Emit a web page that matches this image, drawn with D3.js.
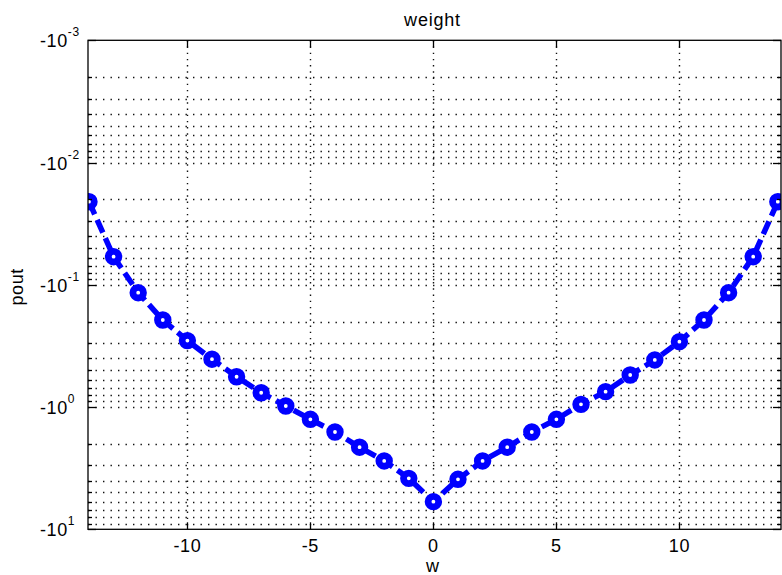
<!DOCTYPE html>
<html><head><meta charset="utf-8">
<script src="https://cdn.jsdelivr.net/npm/d3@7"></script>
<style>
html,body{margin:0;padding:0;background:#fff;}
svg text{font-family:"Liberation Sans",Arial,sans-serif;fill:#000;}
</style></head>
<body>
<svg id="chart" width="782" height="575"></svg>
<script>
// ---- data ----
const wValues = [-14,-13,-12,-11,-10,-9,-8,-7,-6,-5,-4,-3,-2,-1,0,1,2,3,4,5,6,7,8,9,10,11,12,13,14];
const poutValues = [-0.0209,-0.0589,-0.116,-0.194,-0.286,-0.406,-0.565,-0.764,-0.98,-1.26,-1.60,-2.13,-2.76,-3.83,-5.94,
                    -3.90,-2.76,-2.13,-1.60,-1.26,-0.95,-0.748,-0.547,-0.412,-0.292,-0.194,-0.116,-0.0589,-0.0209];
const xTickValues = [-10,-5,0,5,10];
const yDecadeExponents = [-3,-2,-1,0,1];
const titleText = "weight";
const xLabelText = "w";
const yLabelText = "pout";

// ---- layout ----
const svg = d3.select("#chart");
const L = 88, R = 781, T = 40.3, B = 529.3;

const x = d3.scaleLinear().domain([-14.04, 14.13]).range([L, R]);
const y = d3.scaleLog().domain([-10, -0.001]).range([B, T]);

svg.append("defs").append("clipPath").attr("id","clip")
  .append("rect").attr("x",L).attr("y",T).attr("width",R-L).attr("height",B-T);

// grid
const gGrid = svg.append("g");
const yGridVals = y.ticks();
gGrid.selectAll(".hg").data(yGridVals.filter(v => y(v) > T + 1 && y(v) < B - 1)).join("line")
  .attr("x1",L).attr("x2",R).attr("y1",d=>Math.round(y(d))+0.5).attr("y2",d=>Math.round(y(d))+0.5)
  .attr("stroke","#111").attr("stroke-width",1.4).attr("stroke-dasharray","1.4,6.1");
gGrid.selectAll(".vg").data(xTickValues).join("line")
  .attr("x1",d=>Math.round(x(d))+0.5).attr("x2",d=>Math.round(x(d))+0.5).attr("y1",T).attr("y2",B)
  .attr("stroke","#111").attr("stroke-width",1.4).attr("stroke-dasharray","1.4,4.8");

// data
const gData = svg.append("g").attr("clip-path","url(#clip)");
const pts = wValues.map((w,i)=>({w, p: poutValues[i]}));
const line = d3.line().x(d=>x(d.w)).y(d=>y(d.p));
gData.append("path").datum(pts).attr("d",line)
  .attr("fill","none").attr("stroke","#0000ff").attr("stroke-width",5.5)
  .attr("stroke-dasharray","14,6").attr("stroke-linejoin","round");
gData.selectAll("circle").data(pts).join("circle")
  .attr("cx",d=>x(d.w)).attr("cy",d=>y(d.p)).attr("r",5.3)
  .attr("fill","#fff").attr("stroke","#0000ff").attr("stroke-width",6.8);

// box
svg.append("rect").attr("x",L).attr("y",T).attr("width",R-L).attr("height",B-T)
  .attr("fill","none").attr("stroke","#000").attr("stroke-width",1.3);

// x ticks
const gAx = svg.append("g").attr("stroke","#000").attr("stroke-width",1.3);
xTickValues.forEach(v=>{
  const px = Math.round(x(v))+0.5;
  gAx.append("line").attr("x1",px).attr("x2",px).attr("y1",B).attr("y2",B-7);
  gAx.append("line").attr("x1",px).attr("x2",px).attr("y1",T).attr("y2",T+7);
});
// y ticks
yGridVals.forEach(v=>{
  const py = Math.round(y(v))+0.5;
  const m = Math.abs(Math.log10(-v));
  const major = Math.abs(m - Math.round(m)) < 1e-9;
  const len = major ? 8 : 4;
  gAx.append("line").attr("x1",L).attr("x2",L+len).attr("y1",py).attr("y2",py);
  gAx.append("line").attr("x1",R).attr("x2",R-len).attr("y1",py).attr("y2",py);
});

// x tick labels
svg.selectAll(".xl").data(xTickValues).join("text")
  .attr("x",d=>x(d)).attr("y",552).attr("text-anchor","middle")
  .attr("font-size",18).attr("letter-spacing",0.6).text(d=>d);

// y tick labels
yDecadeExponents.forEach(e=>{
  const py = y(-Math.pow(10,e));
  const t = svg.append("text").attr("x",40).attr("y",py+7).attr("font-size",18).attr("letter-spacing",0.6);
  t.append("tspan").text("-10");
  t.append("tspan").attr("font-size",12).attr("dy",-11).text(String(e));
});

// title & labels
svg.append("text").attr("x",(L+R)/2-2).attr("y",26).attr("text-anchor","middle")
  .attr("font-size",18).attr("letter-spacing",0.8).text(titleText);
svg.append("text").attr("x",(L+R)/2-2).attr("y",572).attr("text-anchor","middle")
  .attr("font-size",18).text(xLabelText);
svg.append("text").attr("transform","translate(23,"+((T+B)/2+2)+") rotate(-90)")
  .attr("text-anchor","middle").attr("font-size",18).attr("letter-spacing",0.6).text(yLabelText);
</script>
</body></html>
